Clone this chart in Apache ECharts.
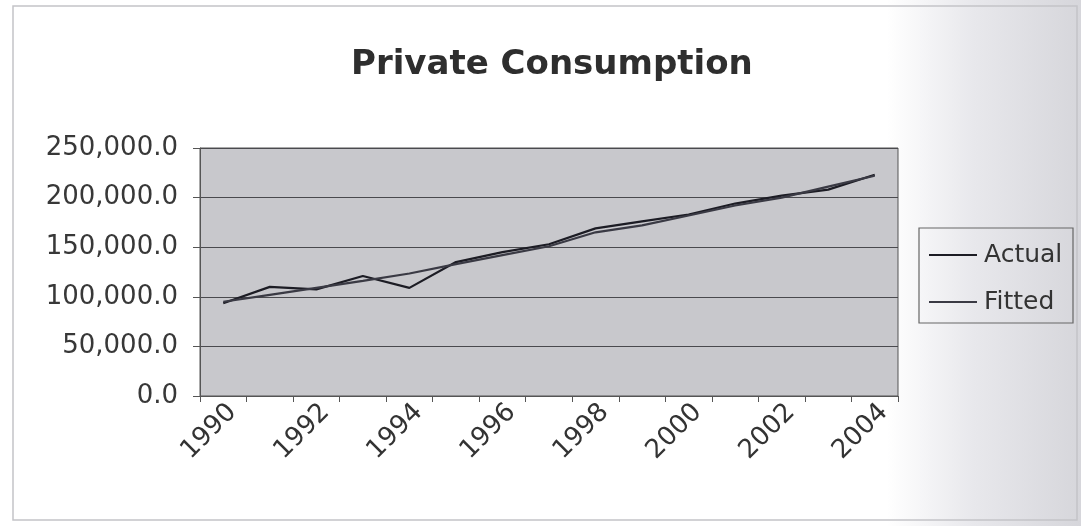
<!DOCTYPE html>
<html>
<head>
<meta charset="utf-8">
<script src="https://cdn.jsdelivr.net/npm/echarts@6/dist/echarts.min.js"></script>
<style>html,body{margin:0;padding:0;background:#fff}#c{width:1081px;height:526px}</style>
</head>
<body>
<div id="c"></div>
<script>
const titleText = 'Private Consumption';
const years = ['1990','1991','1992','1993','1994','1995','1996','1997','1998','1999','2000','2001','2002','2003','2004'];
const actual = [93500,110000,107500,121000,109000,135000,145000,153000,169000,176000,183000,194000,202000,208000,223000];
const fitted = [95000,102000,109000,116000,123500,133000,142000,151000,165000,172000,182000,192000,200000,211000,222000];
const seriesNames = ['Actual','Fitted'];
const yMin = 0, yMax = 250000, yStep = 50000;

const chart = echarts.init(document.getElementById('c'), null, {renderer:'canvas'});
const font = 'DejaVu Sans';
chart.setOption({
  animation: false,
  backgroundColor: '#ffffff',
  graphic: [
    { type:'rect', z:-10, silent:true, shape:{x:0,y:0,width:1081,height:526},
      style:{ fill: new echarts.graphic.LinearGradient(0,0,1,0,[
        {offset:0,color:'#ffffff'},{offset:0.82,color:'#ffffff'},
        {offset:0.9,color:'#e8e8ec'},{offset:1,color:'#d6d6db'}]) } },
    { type:'rect', z:-9, silent:true, shape:{x:13,y:6,width:1064,height:514},
      style:{ fill:'none', stroke:'#c4c4c8', lineWidth:1.5 } },
    { type:'rect', z:5, silent:true, shape:{x:919,y:228,width:154,height:95},
      style:{ fill:'none', stroke:'#666', lineWidth:1.2 } }
  ],
  title: {
    text: titleText, left: 351, top: 48, padding: 0,
    textStyle: { fontFamily: font, fontWeight: 'bold', fontSize: 34, color: '#2e2e2e' }
  },
  legend: {
    orient: 'vertical', left: 929, top: 241, padding: 0,
    itemWidth: 48, itemHeight: 2, itemGap: 19,
    data: seriesNames.map(n => ({ name: n, icon: 'rect' })),
    textStyle: { fontFamily: font, fontSize: 25, color: '#333', lineHeight: 28, padding:[0,0,0,2] }
  },
  grid: {
    left: 200, right: 183, top: 148, bottom: 130,
    show: true, backgroundColor: '#c8c8cc', borderColor: '#555', borderWidth: 1
  },
  xAxis: {
    type: 'category', data: years, boundaryGap: true,
    axisLine: { show: true, lineStyle: { color: '#555', width: 1 } },
    axisTick: { show: true, interval: 0, length: 6, lineStyle: { color: '#555' } },
    axisLabel: { interval: 1, rotate: 45, margin: 3, verticalAlign: 'top',
      fontFamily: font, fontSize: 26, color: '#333' },
    splitLine: { show: false }
  },
  yAxis: {
    type: 'value', min: yMin, max: yMax, interval: yStep,
    axisLine: { show: true, lineStyle: { color: '#555', width: 1 } },
    axisTick: { show: true, length: 7, lineStyle: { color: '#555' } },
    axisLabel: { margin: 22, fontFamily: font, fontSize: 26, color: '#383838',
      formatter: v => v.toLocaleString('en-US',{minimumFractionDigits:1,maximumFractionDigits:1}) },
    splitLine: { show: true, lineStyle: { color: '#4a4a4e', width: 1 } }
  },
  series: [
    { name: seriesNames[0], type: 'line', data: actual, symbol: 'none',
      lineStyle: { color: '#1c1c24', width: 2.2 }, itemStyle: { color: '#1c1c24' } },
    { name: seriesNames[1], type: 'line', data: fitted, symbol: 'none',
      lineStyle: { color: '#3a3a44', width: 2.2 }, itemStyle: { color: '#3a3a44' } }
  ]
});
</script>
</body>
</html>
